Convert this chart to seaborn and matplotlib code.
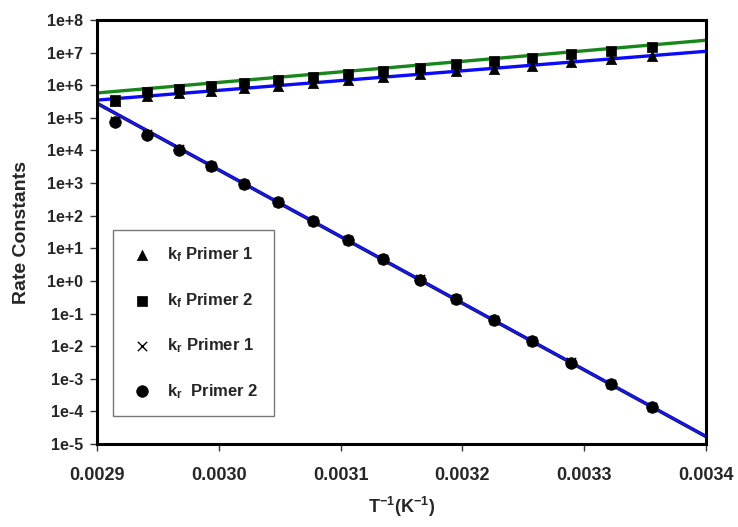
import numpy as np
import pandas as pd
import matplotlib
matplotlib.use("Agg")
import matplotlib.pyplot as plt
import seaborn as sns
from matplotlib.ticker import FixedLocator, FixedFormatter

# ---- data ----
inv_T = [0.002915, 0.002941, 0.002967, 0.002994, 0.003021, 0.003049, 0.003077, 0.003106,
         0.003135, 0.003165, 0.003195, 0.003226, 0.003257, 0.003289, 0.003322, 0.003356]
kf_primer1 = [3.3e5, 4.7e5, 5.6e5, 6.8e5, 8.1e5, 9.8e5, 1.2e6, 1.45e6,
              1.75e6, 2.15e6, 2.65e6, 3.25e6, 4.0e6, 5.0e6, 6.2e6, 7.8e6]
kf_primer2 = [3.6e5, 6.4e5, 7.9e5, 9.8e5, 1.18e6, 1.48e6, 1.82e6, 2.25e6,
              2.8e6, 3.45e6, 4.4e6, 5.5e6, 6.9e6, 8.9e6, 1.15e7, 1.48e7]
kr_primer1 = [8.0e4, 3.1e4, 1.1e4, 3.4e3, 950, 265, 70, 18,
              4.7, 1.12, 0.28, 0.064, 0.0145, 0.0032, 6.8e-4, 1.4e-4]
kr_primer2 = [7.5e4, 3.0e4, 1.05e4, 3.3e3, 920, 260, 68, 17.5,
              4.6, 1.1, 0.27, 0.063, 0.0143, 0.0031, 6.7e-4, 1.35e-4]

fit_x = [0.0029, 0.0034]
fit_kf_primer1 = [3.5e5, 1.1e7]
fit_kf_primer2 = [5.8e5, 2.4e7]
fit_kr_primer1 = [2.8e5, 1.7e-5]
fit_kr_primer2 = [2.8e5, 1.7e-5]

labels = [r"k$_\mathbf{f}$ Primer 1", r"k$_\mathbf{f}$ Primer 2",
          r"k$_\mathbf{r}$ Primer 1", r"k$_\mathbf{r}$  Primer 2"]
x_ticks = [0.0029, 0.0030, 0.0031, 0.0032, 0.0033, 0.0034]
x_ticklabels = ["0.0029", "0.0030", "0.0031", "0.0032", "0.0033", "0.0034"]
y_ticks = [1e-5, 1e-4, 1e-3, 1e-2, 1e-1, 1e0, 1e1, 1e2, 1e3, 1e4, 1e5, 1e6, 1e7, 1e8]
y_ticklabels = ["1e-5", "1e-4", "1e-3", "1e-2", "1e-1", "1e+0", "1e+1", "1e+2",
                "1e+3", "1e+4", "1e+5", "1e+6", "1e+7", "1e+8"]

# ---- style ----
sns.set_theme(style="white")
plt.rcParams["font.family"] = ["Liberation Sans", "DejaVu Sans"]
plt.rcParams["font.weight"] = "bold"
plt.rcParams["mathtext.fontset"] = "custom"
plt.rcParams["mathtext.bf"] = "Liberation Sans:bold"
plt.rcParams["mathtext.rm"] = "Liberation Sans:bold"
plt.rcParams["mathtext.default"] = "bf"

fig = plt.figure(figsize=(7.38, 5.27), dpi=100)
ax = fig.add_axes([0.1314, 0.1575, 0.8252, 0.8045])

fits = pd.DataFrame({"x": fit_x, "kf1": fit_kf_primer1, "kf2": fit_kf_primer2,
                     "kr1": fit_kr_primer1, "kr2": fit_kr_primer2})
sns.lineplot(data=fits, x="x", y="kf2", color="#17871a", lw=2.4, ax=ax, zorder=2)
sns.lineplot(data=fits, x="x", y="kf1", color="#0a0aff", lw=2.4, ax=ax, zorder=2)
sns.lineplot(data=fits, x="x", y="kr1", color="#101060", lw=2.6, ax=ax, zorder=2)
sns.lineplot(data=fits, x="x", y="kr2", color="#1515ff", lw=1.5, ax=ax, zorder=2)

pts = pd.DataFrame({"x": inv_T, "kf1": kf_primer1, "kf2": kf_primer2,
                    "kr1": kr_primer1, "kr2": kr_primer2})
sns.scatterplot(data=pts, x="x", y="kf1", marker="^", s=55, color="black",
                edgecolor="black", linewidth=0.5, ax=ax, zorder=3, label=labels[0])
sns.scatterplot(data=pts, x="x", y="kf2", marker="s", s=50, color="black",
                edgecolor="black", linewidth=0.5, ax=ax, zorder=4, label=labels[1])
sns.scatterplot(data=pts, x="x", y="kr1", marker="x", s=45, color="black",
                linewidth=1.0, ax=ax, zorder=3, label=labels[2])
sns.scatterplot(data=pts, x="x", y="kr2", marker="o", s=70, color="black",
                edgecolor="black", linewidth=0.5, ax=ax, zorder=4, label=labels[3])

ax.set_yscale("log")
ax.set_xlim(0.0029, 0.0034)
ax.set_ylim(1e-5, 1e8)
ax.yaxis.set_major_locator(FixedLocator(y_ticks))
ax.yaxis.set_major_formatter(FixedFormatter(y_ticklabels))
ax.yaxis.set_minor_locator(FixedLocator([]))
ax.xaxis.set_major_locator(FixedLocator(x_ticks))
ax.xaxis.set_major_formatter(FixedFormatter(x_ticklabels))

for sp in ax.spines.values():
    sp.set_color("black")
    sp.set_linewidth(2.2)
ax.tick_params(axis="both", which="major", direction="out", length=5, width=1,
               color="#333333", left=True, bottom=True, top=False, right=False)
ax.tick_params(axis="y", labelsize=11.5, pad=5)
ax.tick_params(axis="x", labelsize=13, pad=11.5)
for t in ax.get_xticklabels() + ax.get_yticklabels():
    t.set_fontweight("bold")

ax.set_xlabel(r"T$^{-1}$(K$^{-1}$)", fontsize=13, fontweight="bold", labelpad=8)
ax.set_ylabel("Rate Constants", fontsize=14, fontweight="bold", labelpad=12)

leg = ax.legend(loc="upper left", bbox_to_anchor=(0.026, 0.505), borderaxespad=0,
                frameon=True, fancybox=False, labelspacing=1.6,
                handletextpad=0.7, borderpad=0.95, handlelength=1.6,
                prop={"weight": "bold", "size": 12})
leg.get_frame().set_edgecolor("#555555")
leg.get_frame().set_linewidth(1.0)

fig.savefig("out.png", dpi=100)
